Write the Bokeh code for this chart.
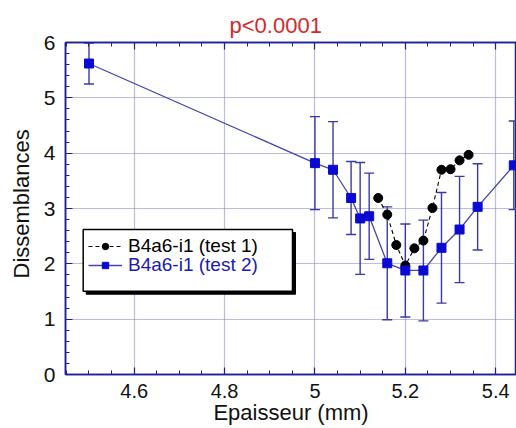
from bokeh.plotting import figure
from bokeh.models import (ColumnDataSource, Whisker, TeeHead, Legend, LegendItem, Title,
                          BoxAnnotation, FixedTicker, LinearAxis, Range1d)
from bokeh.embed import file_html
from bokeh.resources import INLINE

# ---- data ----
x_test1 = [5.14, 5.16, 5.18, 5.20, 5.22, 5.24, 5.26, 5.28, 5.30, 5.32, 5.34]
y_test1 = [3.19, 2.89, 2.34, 1.97, 2.28, 2.42, 3.01, 3.70, 3.71, 3.87, 3.97]

x_test2 = [4.50, 5.00, 5.04, 5.08, 5.10, 5.12, 5.16, 5.20, 5.24, 5.28, 5.32, 5.36, 5.44]
y_test2 = [5.62, 3.82, 3.70, 3.19, 2.82, 2.86, 2.01, 1.88, 1.88, 2.29, 2.62, 3.03, 3.78]
err_test2 = [0.37, 0.84, 0.87, 0.66, 1.01, 0.78, 1.02, 0.84, 0.91, 1.00, 0.96, 0.78, 0.80]

x_ticks = [4.6, 4.8, 5.0, 5.2, 5.4]
x_tick_labels = ["4.6", "4.8", "5", "5.2", "5.4"]
y_ticks = [0, 1, 2, 3, 4, 5, 6]

label_test1 = "B4a6-i1 (test 1)"
label_test2 = "B4a6-i1 (test 2)"
title_text = "p<0.0001"
x_title = "Epaisseur (mm)"
y_title = "Dissemblances"

# ---- styles ----
FONT = "Liberation Sans"
NAVY = "#1e1e96"
GRID = "#7a7ac0"
BLUE = "#0a0ad2"
ERR = "#3a3aa6"
LINE2 = "#4444b4"
RED = "#d42a2a"
TXT = "#111111"

p = figure(width=516, height=428, output_backend="svg", toolbar_location=None,
           x_range=Range1d(4.448, 5.446), y_range=Range1d(0, 6),
           min_border_left=64, min_border_right=0, min_border_top=42, min_border_bottom=54)
p.background_fill_color = "white"
p.border_fill_color = "white"
p.outline_line_color = NAVY
p.outline_line_width = 1.5

p.title.text = title_text
p.title.align = "left"
p.title.offset = 164
p.title.text_font = FONT
p.title.text_font_size = "22px"
p.title.text_font_style = "normal"
p.title.text_color = RED
p.title.standoff = 10

xt = FixedTicker(ticks=x_ticks, minor_ticks=[round(4.45 + 0.05 * i, 2) for i in range(21)])
yt = FixedTicker(ticks=y_ticks, minor_ticks=[round(0.2 * i, 1) for i in range(31)])

def style_axis(ax, tick_font="21px"):
    ax.axis_line_color = NAVY
    ax.axis_line_width = 1.5
    ax.major_tick_line_color = NAVY
    ax.minor_tick_line_color = NAVY
    ax.major_tick_in = 7
    ax.major_tick_out = 0
    ax.minor_tick_in = 4
    ax.minor_tick_out = 0
    ax.major_tick_line_width = 1.2
    ax.minor_tick_line_width = 1
    ax.major_label_text_font = FONT
    ax.major_label_text_font_size = tick_font
    ax.major_label_text_color = TXT
    ax.axis_label_text_font = FONT
    ax.axis_label_text_font_size = "22px"
    ax.axis_label_text_font_style = "normal"
    ax.axis_label_text_color = TXT

p.xaxis.ticker = xt
p.yaxis.ticker = yt
p.xaxis.major_label_overrides = {t: l for t, l in zip(x_ticks, x_tick_labels)}
style_axis(p.xaxis[0], "20px")
style_axis(p.yaxis[0])
p.xaxis.major_label_standoff = 9
p.yaxis.major_label_standoff = 10
p.xaxis.axis_label = x_title
p.xaxis.axis_label_standoff = -1

top_ax = LinearAxis(ticker=xt)
style_axis(top_ax)
top_ax.major_label_overrides = {t: "" for t in x_ticks}
top_ax.major_label_standoff = 0
p.add_layout(top_ax, "above")

ytitle = Title(text=y_title, align="left", offset=96, text_font=FONT, text_font_size="22px",
               text_font_style="normal", text_color=TXT, standoff=13)
p.add_layout(ytitle, "left")

p.xgrid.ticker = xt
p.ygrid.ticker = yt
for g in (p.xgrid[0], p.ygrid[0]):
    g.grid_line_color = GRID
    g.grid_line_dash = "1 1"
    g.grid_line_width = 1.2

# ---- series ----
src1 = ColumnDataSource(dict(x=x_test1, y=y_test1))
src2 = ColumnDataSource(dict(x=x_test2, y=y_test2,
                             lo=[y - e for y, e in zip(y_test2, err_test2)],
                             hi=[y + e for y, e in zip(y_test2, err_test2)]))

whisk = Whisker(source=src2, base="x", upper="hi", lower="lo",
                line_color=ERR, line_width=1.4,
                upper_head=TeeHead(size=10, line_color=ERR, line_width=1.4),
                lower_head=TeeHead(size=10, line_color=ERR, line_width=1.4))
p.add_layout(whisk)

l1 = p.line("x", "y", source=src1, line_color="black", line_width=1.1, line_dash="4 3")
s1 = p.scatter("x", "y", source=src1, marker="circle", size=9, fill_color="black", line_color="black")

l2 = p.line("x", "y", source=src2, line_color=LINE2, line_width=1.3)
s2 = p.scatter("x", "y", source=src2, marker="square", size=9, fill_color=BLUE, line_color=BLUE)

# ---- legend box with shadow ----
shadow = BoxAnnotation(left=20.7, right=230, top=142, bottom=80.3,
                       left_units="screen", right_units="screen", top_units="screen", bottom_units="screen",
                       fill_color="black", fill_alpha=1, line_color="black", line_alpha=1)
box = BoxAnnotation(left=17.7, right=227, top=145, bottom=83.3,
                    left_units="screen", right_units="screen", top_units="screen", bottom_units="screen",
                    fill_color="white", fill_alpha=1, line_color="black", line_width=1.5, line_alpha=1)
p.add_layout(shadow)
p.add_layout(box)

def make_legend(label, rends, color, loc):
    return Legend(items=[LegendItem(label=label, renderers=rends)], location=loc,
                  orientation="vertical", padding=0, margin=0, spacing=0,
                  border_line_alpha=0, background_fill_alpha=0,
                  glyph_width=34, glyph_height=16, label_height=16, label_standoff=6,
                  label_text_font=FONT, label_text_font_size="19px", label_text_color=color)

leg1 = make_legend(label_test1, [l1, s1], "black", (23, 117.3))
leg2 = make_legend(label_test2, [l2, s2], "#1a1ab4", (23, 98.3))
p.add_layout(leg1)
p.add_layout(leg2)

open("out.html", "w").write(file_html(p, INLINE))
